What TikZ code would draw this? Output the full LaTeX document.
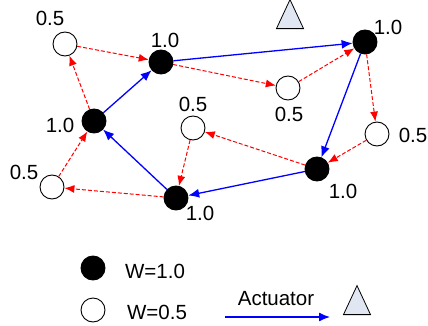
\documentclass[tikz,border=0pt]{standalone}
\usepackage{fontspec}
\setmainfont{Liberation Sans}
\usetikzlibrary{arrows.meta,shapes.geometric}
\definecolor{trifill}{RGB}{224,231,243}
\begin{document}
\begin{tikzpicture}[x=1pt,y=-1pt,
  full/.style={circle,fill=black,draw=black,minimum size=24pt,inner sep=0pt,line width=0.9pt},
  half/.style={circle,fill=white,draw=black,minimum size=24pt,inner sep=0pt,line width=0.9pt},
  lbl/.style={font=\fontsize{20.5}{22}\selectfont,inner sep=0pt},
  act/.style={draw=blue,line width=1.3pt,-{Latex[length=11pt,width=9pt]}},
  msg/.style={draw=red,line width=1pt,dash pattern=on 4pt off 2pt,-{Latex[length=10pt,width=8pt]}},
  actuator/.style={isosceles triangle,shape border rotate=90,isosceles triangle apex angle=50,draw=black,fill=trifill,minimum height=29pt,minimum width=27pt,inner sep=0pt,line width=0.8pt}]
\useasboundingbox (0,0) rectangle (428,326);
% nodes
\node[half] (A) at (65,44) {};
\node[full] (B) at (161,62) {};
\node[full] (C) at (94,121) {};
\node[full] (D) at (365,42) {};
\node[half] (E) at (288,88) {};
\node[half] (F) at (377,134) {};
\node[full] (G) at (317,169) {};
\node[half] (H) at (193,128) {};
\node[full] (I) at (176,198) {};
\node[half] (J) at (52,187) {};
\node[actuator] (T) at (290,20) {};
% labels
\node[lbl] (lA) at (50,18) {0.5};
\node[lbl] (lB) at (165,40) {1.0};
\node[lbl] (lC) at (60,125) {1.0};
\node[lbl] (lD) at (388,27) {1.0};
\node[lbl] (lE) at (289,114) {0.5};
\node[lbl] (lF) at (413,135) {0.5};
\node[lbl] (lG) at (343,191) {1.0};
\node[lbl] (lH) at (193,104) {0.5};
\node[lbl] (lI) at (200,213) {1.0};
\node[lbl] (lJ) at (24,172) {0.5};
% actuator edges
\draw[act] (C) -- (B);
\draw[act] (B) -- (D);
\draw[act] (D) -- (G);
\draw[act] (G) -- (I);
\draw[act] (I) -- (C);
% message edges
\draw[msg] (C) -- (A);
\draw[msg] (A) -- (B);
\draw[msg] (B) -- (E);
\draw[msg] (E) -- (D);
\draw[msg] (D) -- (F);
\draw[msg] (F) -- (G);
\draw[msg] (G) -- (H);
\draw[msg] (H) -- (I);
\draw[msg] (I) -- (J);
\draw[msg] (J) -- (C);
% legend
\node[full] (L1) at (93,268) {};
\node[lbl] (L1t) at (155,271) {W=1.0};
\node[half] (L2) at (93,310) {};
\node[lbl] (L2t) at (157,312) {W=0.5};
\node[lbl] (L3t) at (276,299) {Actuator};
\coordinate (a1) at (225,317);
\coordinate (a2) at (330,317);
\draw[act] (a1) -- (a2);
\node[actuator] (L4) at (357,306) {};
\end{tikzpicture}
\end{document}
